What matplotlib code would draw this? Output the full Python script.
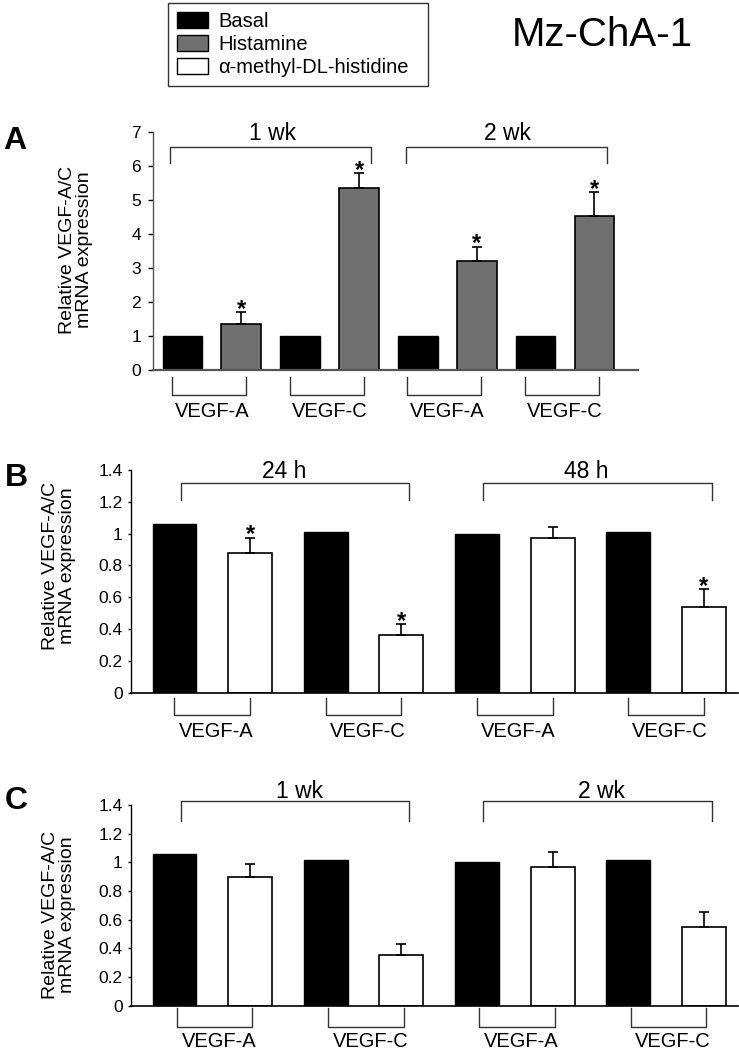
import numpy as np
import matplotlib
matplotlib.use("Agg")
import matplotlib.pyplot as plt
from matplotlib.patches import Patch

plt.rcParams['font.family'] = ['Liberation Sans', 'DejaVu Sans']

# ---------------- data ----------------
series_names = ["Basal", "Histamine", "\u03b1-methyl-DL-histidine"]
gene_labels = ["VEGF-A", "VEGF-C", "VEGF-A", "VEGF-C"]
time_labels_a = ["1 wk", "2 wk"]
time_labels_b = ["24 h", "48 h"]
time_labels_c = ["1 wk", "2 wk"]

a_basal = [1.0, 1.0, 1.0, 1.0]
a_hist = [1.35, 5.36, 3.20, 4.54]
a_hist_err = [0.35, 0.42, 0.43, 0.69]
a_sig = [True, True, True, True]

b_basal = [1.06, 1.01, 1.00, 1.01]
b_amh = [0.88, 0.36, 0.97, 0.54]
b_amh_err = [0.095, 0.07, 0.07, 0.11]
b_sig = [True, True, False, True]

c_basal = [1.06, 1.015, 1.00, 1.015]
c_amh = [0.895, 0.355, 0.97, 0.547]
c_amh_err = [0.093, 0.076, 0.104, 0.108]
c_sig = [False, False, False, False]

a_yticks = [0, 1, 2, 3, 4, 5, 6, 7]
a_ytick_labels = ["0", "1", "2", "3", "4", "5", "6", "7"]
bc_yticks = [0, 0.2, 0.4, 0.6, 0.8, 1.0, 1.2, 1.4]
bc_ytick_labels = ["0", "0.2", "0.4", "0.6", "0.8", "1", "1.2", "1.4"]

# ---------------- styling ----------------
W, H = 739, 1050
HIST_COLOR = "#707070"
LINE_COL = "#333333"

fig = plt.figure(figsize=(W / 100, H / 100), dpi=100)


def rect(left, right, top, bottom):
    return [left / W, 1 - bottom / H, (right - left) / W, (bottom - top) / H]


def draw_panel(ax, basal, treat, err, sig, treat_color, times, cfg):
    n = len(basal)
    xb = np.arange(n) * 2
    xt = xb + 1
    ax.bar(xb, basal, width=cfg['bw'], color='black', edgecolor='black',
           linewidth=1.0, zorder=2)
    ax.bar(xt, treat, width=cfg['bw'], color=treat_color, edgecolor='black',
           linewidth=1.2, zorder=2)
    ax.errorbar(xt, treat, yerr=[np.zeros(n), err], fmt='none', ecolor='black',
                elinewidth=1.2, capsize=3.5, capthick=1.2, zorder=3)
    for i in range(n):
        if sig[i]:
            ax.annotate('*', xy=(xt[i], treat[i] + err[i]), xytext=(0, -2.5),
                        textcoords='offset points', ha='center', va='baseline',
                        fontsize=17, fontweight='bold')
    ax.set_xlim(*cfg['xlim'])
    ax.set_ylim(*cfg['ylim'])
    ax.set_xticks([])
    ax.set_yticks(cfg['yticks'])
    ax.set_yticklabels(cfg['yticklabels'])
    ax.tick_params(axis='y', length=cfg['ticklen'], width=1, pad=cfg['pad'],
                   labelsize=12.5, direction='out')
    for s in ['top', 'right']:
        ax.spines[s].set_visible(False)
    ax.spines['left'].set_linewidth(1.0)
    ax.spines['left'].set_color(cfg['spine_col'])
    ax.spines['bottom'].set_linewidth(cfg['bottom_lw'])
    ax.spines['bottom'].set_color(cfg['spine_col'])
    ax.spines['left'].set_bounds(0, cfg['ylim'][1])

    # top group brackets
    for g in range(2):
        x0 = 4 * g + cfg['top_l']
        x1 = 4 * g + 3 + cfg['top_r']
        ax.plot([x0, x0, x1, x1], [cfg['top_t'], cfg['top_h'], cfg['top_h'], cfg['top_t']],
                color=LINE_COL, lw=1.0, clip_on=False)
        ax.text(4 * g + 1.5 + cfg['top_dx'], cfg['top_ly'], times[g], ha='center',
                va='baseline', fontsize=16.5)
    # bottom gene brackets
    for p in range(n):
        x0 = 2 * p + cfg['bot_l']
        x1 = 2 * p + 1 + cfg['bot_r']
        ax.plot([x0, x0, x1, x1], [cfg['bot_t'], cfg['bot_h'], cfg['bot_h'], cfg['bot_t']],
                color=LINE_COL, lw=1.0, clip_on=False)
        ax.text(2 * p + cfg['bot_dx'], cfg['bot_ly'], gene_labels[p], ha='center',
                va='baseline', fontsize=14.5)


# Panel A
axA = fig.add_axes(rect(153, 638, 132, 370))
draw_panel(axA, a_basal, a_hist, a_hist_err, a_sig, HIST_COLOR, time_labels_a,
           dict(bw=0.673, xlim=(-0.50, 7.74), ylim=(0, 7), yticks=a_yticks,
                yticklabels=a_ytick_labels, ticklen=3.5, pad=5, spine_col='#555555',
                bottom_lw=1.6,
                top_l=-0.21, top_r=0.21, top_h=6.57, top_t=6.08, top_dx=0.03, top_ly=6.76,
                bot_l=-0.18, bot_r=0.08, bot_t=-0.2, bot_h=-0.735, bot_dx=0.5, bot_ly=-1.38))

# Panel B
axB = fig.add_axes(rect(131, 738, 470, 692.7))
draw_panel(axB, b_basal, b_amh, b_amh_err, b_sig, 'white', time_labels_b,
           dict(bw=0.58, xlim=(-0.575, 7.45), ylim=(0, 1.4), yticks=bc_yticks,
                yticklabels=bc_ytick_labels, ticklen=2.5, pad=3.5, spine_col='black',
                bottom_lw=1.2,
                top_l=0.08, top_r=0.1, top_h=1.317, top_t=1.212, top_dx=-0.05, top_ly=1.35,
                bot_l=0.0, bot_r=0.0, bot_t=-0.033, bot_h=-0.14, bot_dx=0.55, bot_ly=-0.277))

# Panel C
axC = fig.add_axes(rect(131, 738, 805, 1005.7))
draw_panel(axC, c_basal, c_amh, c_amh_err, c_sig, 'white', time_labels_c,
           dict(bw=0.58, xlim=(-0.575, 7.45), ylim=(0, 1.4), yticks=bc_yticks,
                yticklabels=bc_ytick_labels, ticklen=2.5, pad=3.5, spine_col='black',
                bottom_lw=1.2,
                top_l=0.08, top_r=0.1, top_h=1.43, top_t=1.29, top_dx=0.15, top_ly=1.448,
                bot_l=0.03, bot_r=0.03, bot_t=-0.016, bot_h=-0.146, bot_dx=0.59, bot_ly=-0.29))

# y labels
ylab = "Relative VEGF-A/C\nmRNA expression"
for (xc, yc) in [(76, 250), (59, 566), (59, 915)]:
    fig.text(xc / W, 1 - yc / H, ylab, rotation=90, ha='center', va='center',
             multialignment='center', fontsize=14, linespacing=1.05)

# panel letters
for letter, (xl, yb) in zip("ABC", [(3, 149), (5, 486), (5, 809)]):
    fig.text(xl / W, 1 - yb / H, letter, ha='left', va='baseline', fontsize=23,
             fontweight='bold')

# title
fig.text(602 / W, 1 - 46 / H, "Mz-ChA-1", ha='center', va='baseline', fontsize=29)

# legend
handles = [Patch(facecolor='black', edgecolor='black'),
           Patch(facecolor=HIST_COLOR, edgecolor='black'),
           Patch(facecolor='white', edgecolor='black')]
leg = fig.legend(handles, series_names, loc='upper left',
                 bbox_to_anchor=(168 / W, 1 - 91.7 / H, 260 / W, 89 / H), mode='expand',
                 borderaxespad=0, fontsize=14.5, handlelength=1.55, handleheight=0.85,
                 handletextpad=0.5, labelspacing=0.2, borderpad=0.45,
                 frameon=True, fancybox=False, edgecolor=LINE_COL, framealpha=1)
leg.get_frame().set_linewidth(1.0)

fig.savefig("out.png", dpi=100)
